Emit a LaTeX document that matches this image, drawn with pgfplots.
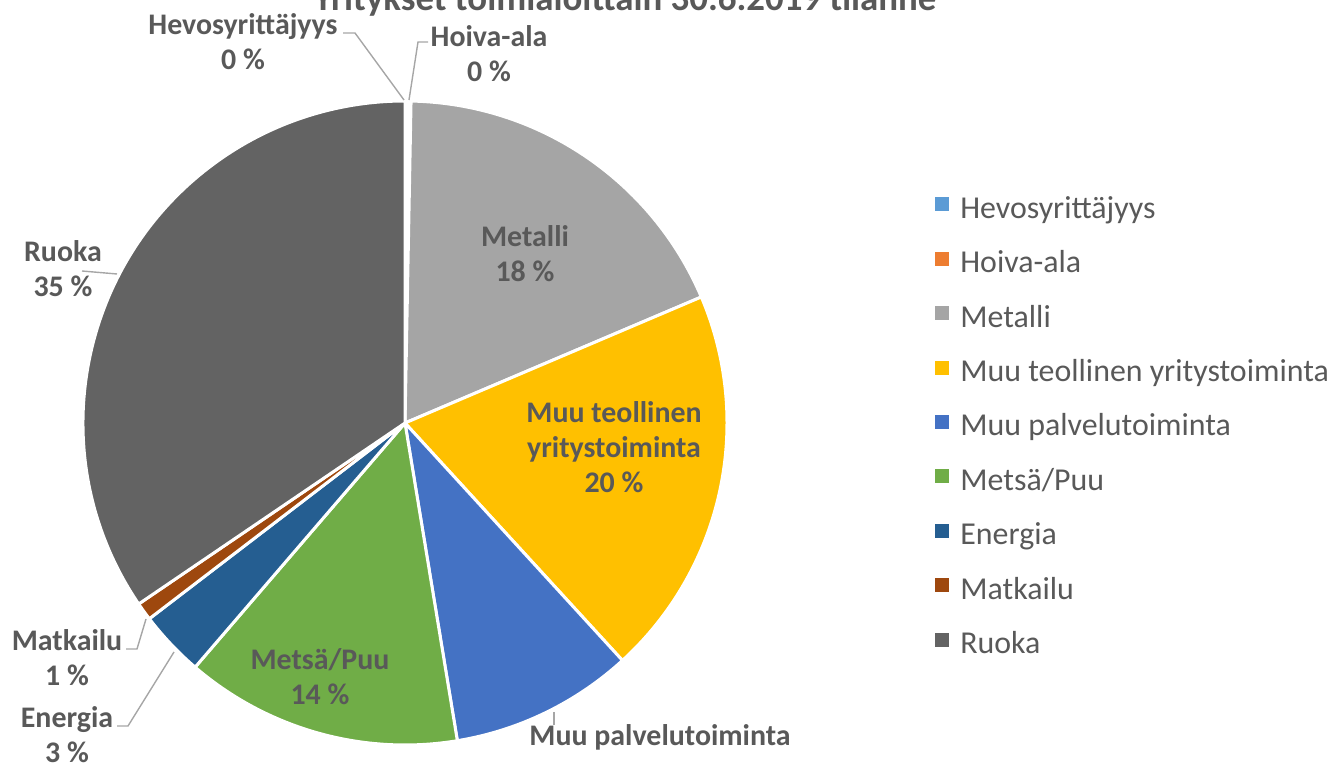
\documentclass[border=0pt]{standalone}
\usepackage{pgfplots}
\pgfplotsset{compat=1.18}
\usepackage{pgfplotstable}
\usepackage{fontspec}
\setmainfont{Carlito}
\definecolor{pc0}{HTML}{5B9BD5}
\definecolor{pc1}{HTML}{ED7D31}
\definecolor{pc2}{HTML}{A5A5A5}
\definecolor{pc3}{HTML}{FFC000}
\definecolor{pc4}{HTML}{4472C4}
\definecolor{pc5}{HTML}{70AD47}
\definecolor{pc6}{HTML}{255E91}
\definecolor{pc7}{HTML}{9E480E}
\definecolor{pc8}{HTML}{636363}
\definecolor{txt}{HTML}{595959}
\definecolor{lead}{HTML}{A6A6A6}
\pgfplotstableread{
idx value
0 0.15
1 0.15
2 18.3
3 19.6
4 9.2
5 13.9
6 3.3
7 0.9
8 34.5
}\piedata
\begin{document}
\begin{tikzpicture}
\gdef\cum{0}
\foreach \i in {0,...,8}{%
  \pgfplotstablegetelem{\i}{value}\of\piedata
  \let\v\pgfplotsretval
  \pgfmathsetmacro\a{90-3.6*\cum}%
  \pgfmathsetmacro\b{90-3.6*(\cum+\v)}%
  \expandafter\xdef\csname sa\i\endcsname{\a}%
  \expandafter\xdef\csname sb\i\endcsname{\b}%
  \pgfmathsetmacro\c{\cum+\v}%
  \xdef\cum{\c}%
}
\begin{axis}[
  width=667.5bp, height=384.5bp, scale only axis,
  xmin=0, xmax=1335, ymin=0, ymax=769,
  hide axis, clip=false,
  legend image code/.code={\fill[#1,draw=none] (0bp,-0.5bp) rectangle (7bp,6.5bp);},
  legend style={draw=none, fill=none, at={(axis cs:929,578)}, anchor=north west,
    font=\fontsize{16}{19}\selectfont, text=txt,
    nodes={inner sep=0pt, text height=11.5bp, text depth=3.5bp},
    row sep=12.2bp, column sep=5.5bp},
  legend cell align=left,
]
\coordinate (bl) at (rel axis cs:0,0);
\coordinate (tr) at (rel axis cs:1,1);
\pgfplotsinvokeforeach{0,...,8}{
  \fill[pc#1, draw=white, line width=1.5bp, line join=round]
    (axis cs:405,346) -- ++(\csname sa#1\endcsname:161bp)
    arc[start angle=\csname sa#1\endcsname, end angle=\csname sb#1\endcsname, radius=161bp] -- cycle;
}
\addlegendimage{pc0}\addlegendentry{Hevosyrittäjyys}
\addlegendimage{pc1}\addlegendentry{Hoiva-ala}
\addlegendimage{pc2}\addlegendentry{Metalli}
\addlegendimage{pc3}\addlegendentry{Muu teollinen yritystoiminta}
\addlegendimage{pc4}\addlegendentry{Muu palvelutoiminta}
\addlegendimage{pc5}\addlegendentry{Metsä/Puu}
\addlegendimage{pc6}\addlegendentry{Energia}
\addlegendimage{pc7}\addlegendentry{Matkailu}
\addlegendimage{pc8}\addlegendentry{Ruoka}
% leader lines
\draw[lead, line width=0.7bp] (axis cs:343,736) -- (axis cs:355,736) -- (axis cs:404,669);
\draw[lead, line width=0.7bp] (axis cs:428,727) -- (axis cs:418,727) -- (axis cs:409,669);
\draw[lead, line width=0.7bp] (axis cs:82,498) -- (axis cs:117,495);
\draw[lead, line width=0.7bp] (axis cs:126,120) -- (axis cs:137,120) -- (axis cs:146,150);
\draw[lead, line width=0.7bp] (axis cs:117,43) -- (axis cs:128,43) -- (axis cs:174,117);
\draw[lead, line width=0.7bp] (axis cs:554,57) -- (axis cs:554,44);
% labels
\tikzset{lbl/.style={text=txt, font=\bfseries\fontsize{15}{17.5}\selectfont, align=center, inner sep=0pt}}
\node[lbl] at (axis cs:243,727.5) {Hevosyrittäjyys\\0 \%};
\node[lbl] at (axis cs:489,715.5) {Hoiva-ala\\0 \%};
\node[lbl] at (axis cs:525,515.5) {Metalli\\18 \%};
\node[lbl] at (axis cs:614,322) {Muu teollinen\\yritystoiminta\\20 \%};
\node[lbl] at (axis cs:660,32) {Muu palvelutoiminta};
\node[lbl] at (axis cs:320,92.5) {Metsä/Puu\\14 \%};
\node[lbl] at (axis cs:63,500.5) {Ruoka\\35 \%};
\node[lbl] at (axis cs:67,111.5) {Matkailu\\1 \%};
\node[lbl] at (axis cs:67,34) {Energia\\3 \%};
\node[text=txt, font=\bfseries\fontsize{18.5}{22}\selectfont, anchor=base, inner sep=0pt] at (axis cs:625,758) {Yritykset toimialoittain 30.6.2019 tilanne};
\end{axis}
\pgfresetboundingbox
\useasboundingbox (bl) rectangle (tr);
\end{tikzpicture}
\end{document}
